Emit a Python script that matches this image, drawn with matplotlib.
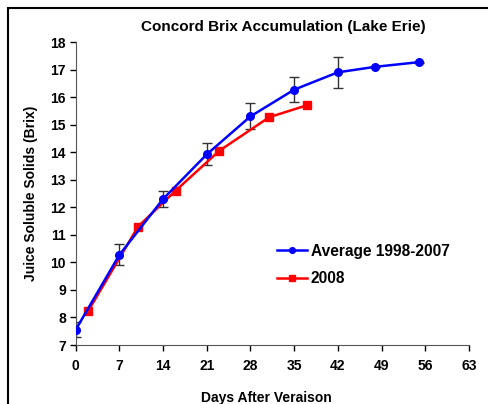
import matplotlib
matplotlib.use('Agg')
from matplotlib import pyplot as plt
from matplotlib.patches import Rectangle

# 平均值 1998-2007
avg_days = [0, 7, 14, 21, 28, 35, 42, 48, 55]
avg_brix = [7.55, 10.27, 12.3, 13.92, 15.3, 16.27, 16.9, 17.1, 17.27]
avg_err = [0.27, 0.38, 0.28, 0.4, 0.47, 0.45, 0.57, 0, 0.02]

# 2008
y2008_days = [2, 10, 16, 23, 31, 37]
y2008_brix = [8.23, 11.3, 12.6, 14.05, 15.27, 15.7]

xticks = list(range(0, 64, 7))
yticks = list(range(7, 19))

plt.rcParams['font.family'] = ['Liberation Sans', 'DejaVu Sans']
plt.rcParams['font.weight'] = 'bold'

fig = plt.figure(figsize=(4.88, 4.04), dpi=100)
ax = fig.add_axes([0.155, 0.146, 0.806, 0.75])

# 外框
fig.patches.append(Rectangle((8 / 488, -0.1), 1.2, 1 - 8 / 404 + 0.1, transform=fig.transFigure,
                             fill=False, edgecolor='black', linewidth=1.5))

ax.errorbar(avg_days, avg_brix, yerr=avg_err, fmt='none', ecolor='#333333', elinewidth=1,
            capsize=3.5, capthick=1, zorder=1)
l1, = ax.plot(avg_days, avg_brix, color='blue', marker='o', markersize=5.5, linewidth=1.8,
              label='Average 1998-2007', zorder=3)
l2, = ax.plot(y2008_days, y2008_brix, color='red', marker='s', markersize=5.5, linewidth=1.8,
              label='2008', zorder=2)

ax.set_xlim(0, 63)
ax.set_ylim(7, 18)
ax.set_xticks(xticks)
ax.set_yticks(yticks)
ax.tick_params(direction='out', length=4, width=1, labelsize=10)
ax.tick_params(axis='x', pad=6)
ax.tick_params(axis='y', pad=3)
for lab in ax.get_xticklabels() + ax.get_yticklabels():
    lab.set_fontweight('bold')
ax.spines['top'].set_visible(False)
ax.spines['right'].set_visible(False)
ax.spines['left'].set_color('#555555')
ax.spines['bottom'].set_color('#555555')

ax.set_title('Concord Brix Accumulation (Lake Erie)', fontsize=11, fontweight='bold', pad=8, x=0.527)
ax.set_xlabel('Days After Veraison', fontsize=10, fontweight='bold', labelpad=13, x=0.484)
ax.set_ylabel('Juice Soluble Solids (Brix)', fontsize=10, fontweight='bold', labelpad=9)

ax.legend(handles=[l1, l2], loc='upper left', bbox_to_anchor=(0.497, 0.355), frameon=False,
          fontsize=11.2, handlelength=1.9, handletextpad=0.25, labelspacing=0.8,
          markerscale=0.75, borderaxespad=0)

plt.savefig('out.png', dpi=100)
